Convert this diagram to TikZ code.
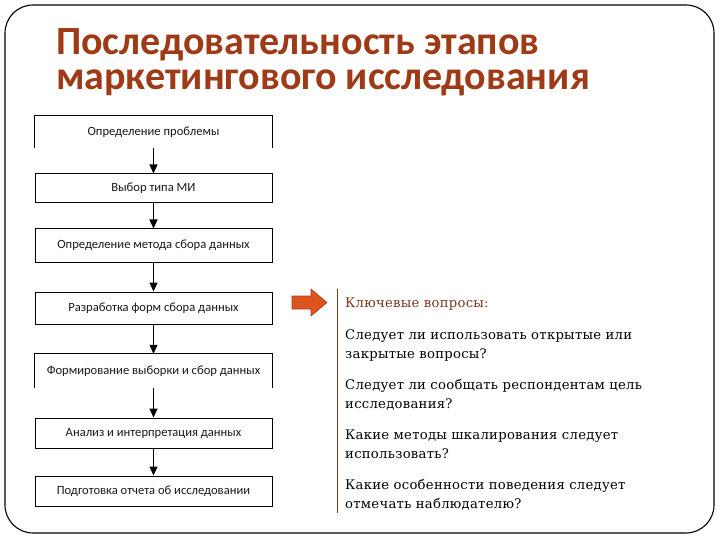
\documentclass[tikz,border=0pt]{standalone}
\usepackage{fontspec}
\setmainfont{Liberation Serif}
\newfontfamily\titlefont{Carlito}
\newfontfamily\boxfont{Carlito}
\newfontfamily\qfont[LetterSpace=2]{DejaVu Serif}
\usetikzlibrary{arrows.meta}
\definecolor{titlered}{RGB}{158,58,22}
\definecolor{arroworange}{RGB}{222,84,30}
\definecolor{arrowedge}{RGB}{170,60,20}
\definecolor{rulebrown}{RGB}{130,55,30}
\definecolor{keybrown}{RGB}{120,55,35}
\tikzset{
  stepbox/.style={minimum width=237, inner sep=0, text=black!90,
    font=\boxfont\fontsize{12.6}{12.6}\selectfont},
  framed/.style={draw, line width=1},
  flow/.style={-{Triangle[length=9,width=8]}, line width=1.2},
  titletext/.style={anchor=base west, inner sep=0, text=titlered, align=left,
    font=\titlefont\bfseries\fontsize{40}{35}\selectfont},
  qtext/.style={anchor=base west, inner sep=0, text=black,
    font=\qfont\fontsize{13.2}{13.2}\selectfont},
}
\begin{document}
\begin{tikzpicture}[x=1pt,y=-1pt]
\useasboundingbox (0,0) rectangle (720,540);
\draw[line width=1.1, rounded corners=28] (5,5) rectangle (714,533);

\node[titletext] (title) at (56,90) {Последовательность этапов\\маркетингового исследования};

\node[stepbox, minimum height=32] (b1) at (153.5,132) {Определение проблемы};
\node[stepbox, framed, minimum height=29] (b2) at (153.5,188.5) {Выбор типа МИ};
\node[stepbox, framed, minimum height=33] (b3) at (153.5,245.5) {Определение метода сбора данных};
\node[stepbox, framed, minimum height=32] (b4) at (153.5,308) {Разработка форм сбора данных};
\node[stepbox, minimum height=34] (b5) at (153.5,371) {Формирование выборки и сбор данных};
\node[stepbox, framed, minimum height=30] (b6) at (153.5,433) {Анализ и интерпретация данных};
\node[stepbox, framed, minimum height=30] (b7) at (153.5,491) {Подготовка отчета об исследовании};

\draw[line width=1] (b1.south west) -- (b1.north west) -- (b1.north east) -- (b1.south east);
\draw[line width=1] (b5.south west) -- (b5.north west) -- (b5.north east) -- (b5.south east);

\draw[flow] (b1) -- (b2);
\draw[flow] (b2) -- (b3);
\draw[flow] (b3) -- (b4);
\draw[flow] (b4) -- (b5);
\draw[flow] (b5) -- (b6);
\draw[flow] (b6) -- (b7);

\draw[fill=arroworange, draw=arrowedge, line width=0.6]
  (292,296) -- (311,296) -- (311,289) -- (327,302.5) -- (311,316) -- (311,309) -- (292,309) -- cycle;
\draw[rulebrown, line width=1] (337,289) -- (337,513);

\node[qtext, text=keybrown] (q0) at (345,307) {Ключевые вопросы:};
\node[qtext] (q1a) at (345,339) {Следует ли использовать открытые или};
\node[qtext] (q1b) at (345,358) {закрытые вопросы?};
\node[qtext] (q2a) at (345,389) {Следует ли сообщать респондентам цель};
\node[qtext] (q2b) at (345,408) {исследования?};
\node[qtext] (q3a) at (345,439) {Какие методы шкалирования следует};
\node[qtext] (q3b) at (345,458) {использовать?};
\node[qtext] (q4a) at (345,489) {Какие особенности поведения следует};
\node[qtext] (q4b) at (345,508) {отмечать наблюдателю?};
\end{tikzpicture}
\end{document}
